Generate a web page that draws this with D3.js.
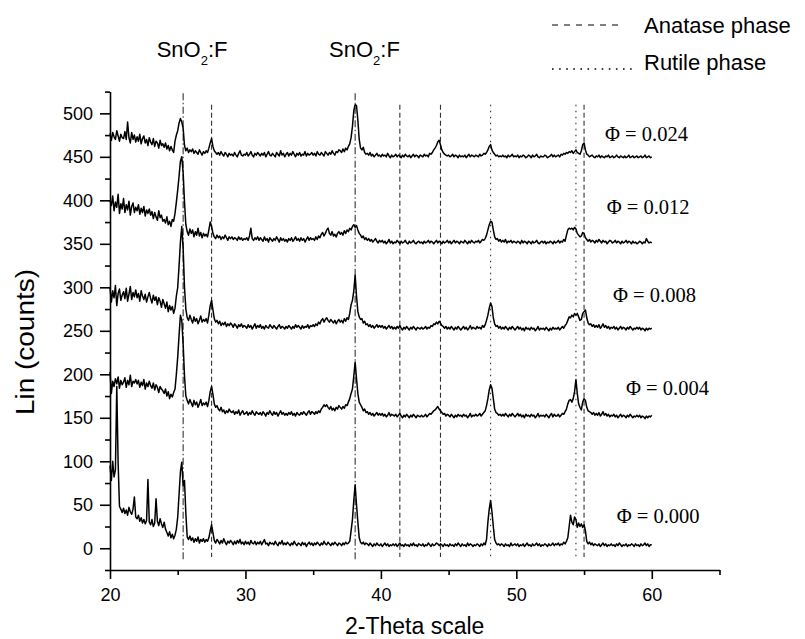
<!DOCTYPE html>
<html>
<head>
<meta charset="utf-8">
<script src="https://d3js.org/d3.v7.min.js"></script>
<style>
  body { margin: 0; background: #ffffff; }
  text { font-family: Arial, "Liberation Sans", sans-serif; }
</style>
</head>
<body>
<div id="chart"></div>
<script>
// scan grid (2-theta, degrees)
var thetaStart = 20;
var thetaStep = 0.1;

// Lin (counts), one value per 0.1 degree from 20.0 to 60.0
var phi024 = [
477,469,478,473,470,480,474,468,476,472,
471,479,470,490,472,466,478,470,475,467,
473,468,476,465,471,474,466,470,463,472,
467,464,471,462,468,466,460,469,463,465,
461,466,459,463,457,462,458,455,468,475,
480,489,494,490,483,463,457,460,455,458,
456,459,454,457,455,453,458,455,452,456,
454,457,455,460,466,471,462,457,455,453,
455,452,456,453,451,455,453,450,454,452,
453,451,455,452,450,454,457,452,451,453,
452,455,451,453,456,452,450,454,452,455,
453,451,454,452,455,450,453,456,452,451,
454,452,450,455,453,451,457,452,454,450,
453,455,451,454,452,456,453,450,454,452,
455,451,453,452,456,451,454,452,453,455,
452,454,451,456,453,452,455,453,451,456,
454,452,455,453,457,454,452,456,455,458,
457,455,459,456,460,458,462,465,472,485,
503,510,509,492,470,460,458,461,455,453,
454,452,455,451,453,450,452,454,451,452,
450,453,451,452,450,454,451,449,452,450,
451,453,450,452,451,449,452,450,453,451,
450,452,449,451,453,450,452,451,449,452,
451,450,453,451,452,450,454,453,455,458,
460,463,467,469,464,458,455,453,452,451,
452,450,451,453,450,452,451,449,452,450,
451,450,452,449,451,453,450,452,451,450,
452,451,450,453,451,452,454,453,455,458,
462,464,458,455,453,451,452,450,451,450,
452,450,451,449,452,450,451,453,450,451,
450,452,449,451,450,452,451,449,450,452,
451,449,452,450,451,453,450,449,451,450,
450,452,451,449,450,451,453,450,452,450,
451,452,450,453,452,454,453,455,454,456,
455,457,454,456,458,455,454,453,457,464,
466,458,453,452,450,451,452,450,449,451,
450,452,449,451,450,449,451,450,452,449,
450,451,449,450,452,450,449,451,450,449,
451,449,450,452,449,450,451,449,450,451,
449,450,451,449,450,452,449,450,451,449,
450];

var phi012 = [
400,394,405,388,398,392,407,385,396,390,
402,386,395,389,399,383,393,397,386,392,
388,395,384,391,386,393,382,389,385,390,
383,387,379,386,381,377,388,380,383,376,
378,374,381,372,376,370,378,376,385,398,
412,428,445,450,432,398,372,364,360,367,
362,366,358,364,360,368,359,363,357,362,
359,361,358,366,375,370,362,358,356,360,
357,359,355,358,356,360,357,354,358,356,
358,355,357,356,354,358,355,357,354,356,
355,357,354,359,368,356,354,357,355,358,
354,357,355,353,358,354,356,352,357,355,
353,356,354,358,355,352,357,354,356,353,
355,352,356,354,357,353,355,358,354,356,
353,357,354,356,352,355,358,354,357,355,
356,354,358,355,359,357,361,363,359,362,
366,368,362,360,364,359,361,358,362,364,
361,363,360,365,362,366,364,368,366,370,
372,369,371,366,362,360,357,359,355,357,
354,356,353,355,352,354,356,353,351,354,
352,354,351,353,350,352,355,351,353,350,
352,351,354,352,350,353,351,352,354,351,
350,353,351,352,354,351,350,352,353,351,
352,350,353,351,352,354,351,353,352,350,
352,354,351,353,352,350,353,351,352,354,
351,353,350,352,354,351,353,352,350,353,
352,351,354,352,350,353,351,354,352,351,
353,352,354,351,353,355,354,356,360,366,
372,376,375,366,358,355,356,353,355,352,
354,352,355,351,353,352,354,351,353,352,
351,353,352,350,354,351,353,352,350,353,
352,350,353,351,352,354,351,350,352,353,
351,353,350,352,351,353,352,350,353,351,
352,354,351,353,352,355,353,360,366,368,
367,368,366,369,367,362,360,358,359,363,
362,357,355,353,355,352,354,353,351,354,
352,355,353,351,354,352,353,350,352,354,
353,351,352,354,351,353,352,350,353,351,
352,354,351,353,352,350,353,351,352,350,
351,353,352,350,352,351,356,353,351,352,
351];

var phi008 = [
300,283,296,288,302,279,293,298,285,291,
295,287,299,284,292,301,286,294,289,297,
288,293,284,296,290,286,292,283,289,294,
287,282,291,285,289,280,288,284,277,286,
281,276,283,272,279,274,278,270,276,290,
300,325,352,370,345,300,275,265,262,268,
263,259,266,261,264,258,262,267,260,263,
261,264,259,268,279,285,274,264,260,262,
258,261,256,259,257,260,255,258,256,259,
257,254,258,256,253,257,255,258,254,256,
255,253,257,254,256,252,255,258,253,256,
254,257,253,255,252,256,254,253,257,255,
253,256,254,252,255,257,253,255,254,252,
255,253,256,254,252,255,253,257,254,256,
254,252,256,253,255,254,257,253,256,255,
257,255,258,256,260,258,262,264,260,263,
265,262,260,263,261,259,262,258,261,263,
260,262,259,264,261,265,263,270,280,285,
296,314,290,272,266,263,264,259,261,257,
258,255,257,254,256,253,255,257,254,256,
254,256,253,255,252,254,256,253,255,252,
254,252,255,253,256,253,251,254,252,255,
253,251,254,252,255,253,251,254,253,252,
254,252,253,255,252,254,253,256,255,258,
257,260,258,261,259,256,255,253,255,252,
254,252,255,253,251,254,252,255,253,251,
253,255,252,254,251,253,256,252,254,253,
252,255,253,254,252,256,254,257,262,268,
276,282,278,265,258,255,256,253,255,252,
254,252,255,253,251,254,252,255,253,251,
253,255,252,254,251,253,250,254,252,253,
251,254,252,253,250,252,255,251,253,252,
253,251,254,252,250,253,251,254,252,253,
252,254,251,253,255,253,256,258,262,266,
265,268,266,270,268,270,266,262,263,270,
272,274,265,259,257,258,255,257,254,256,
254,257,253,255,258,254,256,253,255,252,
254,253,255,252,254,251,253,255,252,254,
253,251,254,252,255,253,251,253,252,254,
252,254,251,253,252,250,253,251,253,252,
253];

var phi004 = [
203,178,192,186,195,189,197,184,193,188,
191,196,185,193,188,199,186,192,190,194,
189,193,185,191,187,194,183,190,186,192,
187,184,190,182,188,185,179,186,183,181,
178,183,175,180,172,177,174,179,183,200,
220,245,268,262,235,198,175,170,166,171,
167,163,170,165,168,162,166,171,164,167,
165,168,163,170,180,186,177,166,162,164,
160,158,162,157,159,155,158,156,160,157,
156,158,154,157,155,159,153,156,158,154,
155,157,153,156,154,158,155,153,157,155,
154,156,153,157,155,152,156,154,158,155,
153,157,154,156,152,155,158,154,156,153,
155,153,156,154,157,153,155,152,156,154,
153,156,154,157,155,153,156,158,154,157,
156,154,157,155,158,156,160,162,165,163,
165,162,160,163,159,161,158,162,160,164,
162,160,163,161,165,164,168,172,178,183,
198,214,195,178,168,165,162,158,160,156,
157,154,156,153,155,152,154,156,153,155,
153,155,152,154,151,153,156,152,154,153,
152,154,151,153,155,152,150,153,151,154,
152,150,153,151,154,152,150,153,152,151,
153,151,152,154,151,153,155,154,156,158,
159,161,163,160,158,156,154,155,152,154,
153,151,154,152,150,153,151,154,152,153,
151,154,152,153,150,152,155,151,153,152,
154,152,153,155,152,154,156,158,164,172,
182,188,184,172,160,156,155,153,154,152,
154,152,155,153,151,154,152,155,153,151,
153,155,152,154,151,153,150,154,152,153,
151,154,152,153,150,152,155,151,153,152,
153,151,154,152,150,153,155,151,154,152,
152,154,151,153,155,154,157,160,166,170,
171,168,172,180,194,178,166,162,159,168,
172,170,162,158,157,156,154,156,153,155,
153,156,152,154,157,153,155,152,154,151,
153,152,154,151,153,150,152,154,151,153,
152,150,153,151,154,152,150,152,151,153,
151,153,150,152,151,149,152,150,152,151,
153];

var phi000 = [
95,78,100,82,90,186,98,48,45,41,
46,40,44,38,47,42,39,45,59,36,
34,38,31,35,29,33,28,32,79,30,
27,33,25,29,57,31,26,34,28,24,
30,22,18,14,19,12,16,11,15,22,
36,62,88,99,72,78,40,13,10,14,
9,12,7,11,8,13,6,10,8,11,
7,10,8,12,20,27,18,9,6,10,
8,5,9,6,11,7,4,8,6,9,
7,4,8,5,9,6,10,5,7,4,
8,5,7,4,9,6,5,8,4,7,
5,8,4,7,10,5,6,3,7,5,
6,4,8,5,3,7,5,9,4,6,
4,7,5,3,6,4,8,5,3,6,
5,3,7,4,6,2,5,7,4,6,
3,6,4,7,5,3,6,4,8,5,
4,7,5,3,6,4,7,5,3,6,
5,3,6,4,7,5,6,8,20,33,
55,73,50,30,12,7,5,7,4,6,
5,3,6,4,2,5,3,6,4,3,
5,2,4,6,3,5,2,4,3,5,
3,5,2,4,6,3,4,2,5,3,
4,2,5,3,6,3,4,2,5,4,
3,5,2,4,3,6,4,2,5,3,
4,6,5,3,5,4,2,5,3,4,
2,5,3,4,2,5,3,6,4,2,
5,3,4,2,6,3,5,4,2,4,
3,5,4,2,5,3,6,4,10,30,
45,55,42,25,10,6,4,5,3,5,
4,2,5,3,4,2,6,3,4,5,
3,5,2,4,3,5,2,4,6,3,
4,2,5,3,4,6,3,5,2,4,
3,5,4,2,5,3,4,6,3,5,
4,6,3,5,4,7,5,8,12,25,
38,30,27,36,33,24,29,25,28,24,
27,20,8,5,7,4,6,3,5,4,
3,5,2,4,6,3,5,2,4,3,
5,3,4,2,5,3,6,4,2,4,
3,5,2,4,3,5,4,2,5,3,
4,2,5,3,4,6,3,5,2,4,
4];

var seriesLabels = ["\u03A6 = 0.024", "\u03A6 = 0.012", "\u03A6 = 0.008", "\u03A6 = 0.004", "\u03A6 = 0.000"];
var seriesValues = [phi024, phi012, phi008, phi004, phi000];

// reference peak positions (2-theta)
var sno2Peaks = [25.4, 38.1];
var anatasePeaks = [27.5, 41.4, 44.4, 55.0];
var rutilePeaks = [48.1, 54.4];

var xMajorTicks = [20, 30, 40, 50, 60];
var xMinorTicks = [25, 35, 45, 55, 65];
var yMajorTicks = [0, 50, 100, 150, 200, 250, 300, 350, 400, 450, 500];
var yMinorTicks = [-25, 25, 75, 125, 175, 225, 275, 325, 375, 425, 475, 525];

var width = 805;
var height = 639;

var svg = d3.select("#chart")
    .append("svg")
    .attr("width", width)
    .attr("height", height);

var x = d3.scaleLinear().domain([20, 65]).range([110, 719.5]);
var y = d3.scaleLinear().domain([-25, 525]).range([570, 91.6]);

// vertical phase markers
function markers(list, dash, top, bottom) {
  svg.append("g")
    .selectAll("line")
    .data(list)
    .enter()
    .append("line")
    .attr("x1", function(d) { return x(d); })
    .attr("x2", function(d) { return x(d); })
    .attr("y1", y(top))
    .attr("y2", y(bottom))
    .style("stroke", "#333")
    .style("stroke-width", 1.1)
    .style("stroke-dasharray", dash);
}
markers(sno2Peaks, "7,2.5,1.5,2.5", 523, -15);
markers(anatasePeaks, "5,3", 510, -10);
markers(rutilePeaks, "1.5,4.5", 510, -10);

// patterns
var line = d3.line()
    .x(function(d) { return x(d[0]); })
    .y(function(d) { return y(d[1]); });

seriesValues.forEach(function(vals) {
  var pts = vals.map(function(v, i) { return [thetaStart + i * thetaStep, v]; });
  svg.append("path")
    .datum(pts)
    .attr("d", line)
    .style("fill", "none")
    .style("stroke", "#000")
    .style("stroke-width", 1.5)
    .style("stroke-linejoin", "round");
});

// axes
var xAxis = svg.append("g")
    .attr("transform", "translate(0,570)")
    .call(d3.axisBottom(x).tickValues(xMajorTicks).tickSize(9).tickPadding(9).tickSizeOuter(0));
var xMinor = svg.append("g")
    .attr("transform", "translate(0,570)")
    .call(d3.axisBottom(x).tickValues(xMinorTicks).tickSize(5).tickFormat(""));
xMinor.select(".domain").remove();

var yAxis = svg.append("g")
    .attr("transform", "translate(110,0)")
    .call(d3.axisLeft(y).tickValues(yMajorTicks).tickSize(10).tickPadding(7).tickSizeOuter(0));
var yMinor = svg.append("g")
    .attr("transform", "translate(110,0)")
    .call(d3.axisLeft(y).tickValues(yMinorTicks).tickSize(5).tickFormat(""));
yMinor.select(".domain").remove();

svg.selectAll(".domain, .tick line")
    .style("stroke", "#000")
    .style("stroke-width", 1.6);
svg.selectAll(".tick text")
    .style("font-family", "Arial, 'Liberation Sans', sans-serif")
    .style("font-size", "18px")
    .style("fill", "#000");

// axis titles
svg.append("text")
    .attr("x", 414.7)
    .attr("y", 634)
    .attr("text-anchor", "middle")
    .style("font-size", "23px")
    .text("2-Theta scale");

svg.append("text")
    .attr("transform", "translate(34,342) rotate(-90)")
    .attr("text-anchor", "middle")
    .attr("textLength", 146)
    .attr("lengthAdjust", "spacingAndGlyphs")
    .style("font-size", "25px")
    .text("Lin (counts)");

// sample labels
var labelPos = [[605, 140.7], [606.7, 213.5], [613, 301.7], [626, 395], [616.7, 523]];
svg.selectAll(".phi")
    .data(seriesLabels)
    .enter()
    .append("text")
    .attr("class", "phi")
    .attr("x", function(d, i) { return labelPos[i][0]; })
    .attr("y", function(d, i) { return labelPos[i][1]; })
    .style("font-family", "'Liberation Serif', 'Times New Roman', serif")
    .style("font-size", "20.5px")
    .text(function(d) { return d; });

// SnO2:F labels
[156.7, 329].forEach(function(px) {
  var t = svg.append("text")
      .attr("x", px)
      .attr("y", 56.7)
      .style("font-size", "22px");
  t.append("tspan").text("SnO");
  t.append("tspan").attr("dy", 8).style("font-size", "13px").text("2");
  t.append("tspan").attr("dy", -8).text(":F");
});

// legend
svg.append("line")
    .attr("x1", 552).attr("x2", 619)
    .attr("y1", 25).attr("y2", 25)
    .style("stroke", "#000")
    .style("stroke-width", 1.2)
    .style("stroke-dasharray", "6,6");
svg.append("text")
    .attr("x", 644).attr("y", 33.3)
    .style("font-size", "22px")
    .text("Anatase phase");

svg.append("line")
    .attr("x1", 552).attr("x2", 637)
    .attr("y1", 69).attr("y2", 69)
    .style("stroke", "#000")
    .style("stroke-width", 1.6)
    .style("stroke-dasharray", "1.6,5.5");
svg.append("text")
    .attr("x", 644).attr("y", 70)
    .style("font-size", "22px")
    .text("Rutile phase");
</script>
</body>
</html>
